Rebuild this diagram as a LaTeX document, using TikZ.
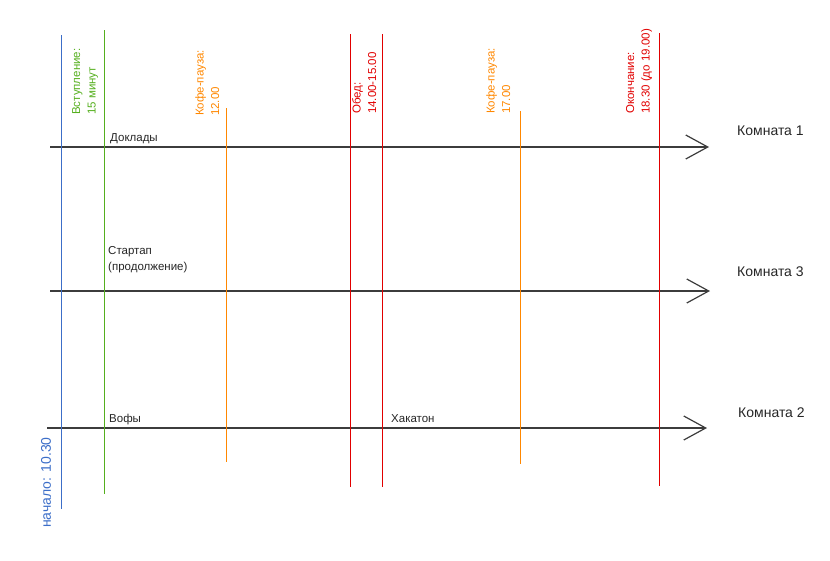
\documentclass[tikz,border=0pt]{standalone}
\usepackage{fontspec}
\setmainfont{Liberation Sans}
\usetikzlibrary{arrows.meta}
\definecolor{cblue}{RGB}{60,110,200}
\definecolor{cgreen}{RGB}{85,175,30}
\definecolor{corange}{RGB}{255,135,0}
\definecolor{cred}{RGB}{225,0,0}
\definecolor{cline}{RGB}{60,60,60}
\tikzset{
  vline/.style={line width=1pt},
  room/.style={cline, line width=1.2pt, -{Straight Barb[length=22pt,width=24pt]}},
  small/.style={font=\fontsize{11.5}{15.5}\selectfont, inner sep=0pt, text=black!85},
  roomlbl/.style={font=\fontsize{14}{16}\selectfont, inner sep=0pt, text=black!85, anchor=base west},
  vlbl/.style={font=\fontsize{11.5}{15.5}\selectfont, inner sep=0pt, rotate=90, anchor=north west, align=left},
}
\begin{document}
\begin{tikzpicture}[x=1pt,y=-1pt]
\useasboundingbox (0,0) rectangle (830,560);
% horizontal room arrows
\coordinate (r1s) at (50,147); \coordinate (r1e) at (709,147);
\coordinate (r3s) at (50,291); \coordinate (r3e) at (710,291);
\coordinate (r2s) at (47,428); \coordinate (r2e) at (707,428);
\draw[room] (r1s) -- (r1e);
\draw[room] (r3s) -- (r3e);
\draw[room] (r2s) -- (r2e);
% vertical lines
\coordinate (bt) at (61,35);  \coordinate (bb) at (61,509);
\coordinate (gt) at (104,30); \coordinate (gb) at (104,494);
\coordinate (o1t) at (226,108); \coordinate (o1b) at (226,462);
\coordinate (rat) at (350,34); \coordinate (rab) at (350,487);
\coordinate (rbt) at (382,34); \coordinate (rbb) at (382,487);
\coordinate (o2t) at (520,111); \coordinate (o2b) at (520,464);
\coordinate (rct) at (659,33); \coordinate (rcb) at (659,486);
\draw[vline, cblue] (bt) -- (bb);
\draw[vline, cgreen] (gt) -- (gb);
\draw[vline, corange] (o1t) -- (o1b);
\draw[vline, cred] (rat) -- (rab);
\draw[vline, cred] (rbt) -- (rbb);
\draw[vline, corange] (o2t) -- (o2b);
\draw[vline, cred] (rct) -- (rcb);
% vertical labels
\node[vlbl, text=cgreen] (lgreen) at (72,115) {Вступление:\\15 минут};
\node[vlbl, text=corange] (lo1) at (195,116) {Кофе-пауза:\\12.00};
\node[vlbl, text=cred] (lobed) at (352,114) {Обед:\\14.00-15.00};
\node[vlbl, text=corange] (lo2) at (486,114) {Кофе-пауза:\\17.00};
\node[vlbl, text=cred] (lend) at (626,114) {Окончание:\\18.30 (до 19.00)};
\node[vlbl, text=cblue, font=\fontsize{14}{16}\selectfont] (lstart) at (41,528) {начало: 10.30};
% room labels
\node[roomlbl] (k1) at (737,135) {Комната 1};
\node[roomlbl] (k3) at (737,276) {Комната 3};
\node[roomlbl] (k2) at (738,417) {Комната 2};
% session labels
\node[small, anchor=base west] (dokl) at (110,141) {Доклады};
\node[small, anchor=base west, align=left] (start) at (108,270) {Стартап\\(продолжение)};
\node[small, anchor=base west] (vofy) at (109,422) {Вофы};
\node[small, anchor=base west] (hak) at (391,422) {Хакатон};
\end{tikzpicture}
\end{document}
